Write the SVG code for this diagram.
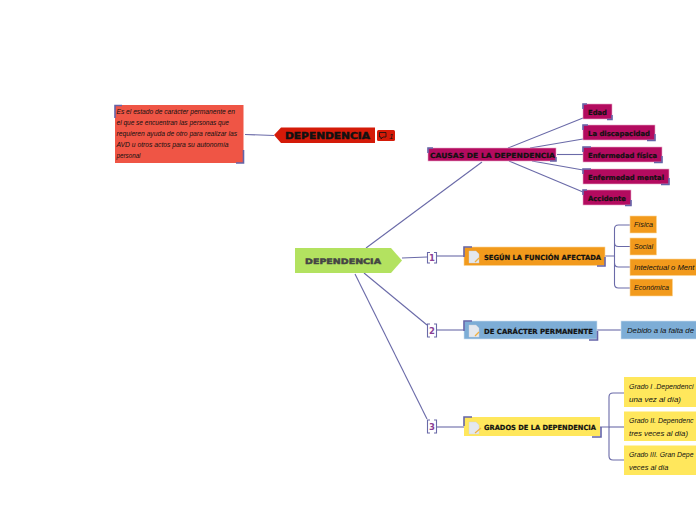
<svg xmlns="http://www.w3.org/2000/svg" width="696" height="520" viewBox="0 0 696 520">
<style>
.c{fill:none;stroke:#6a6aa8;stroke-width:1.1}
.m{fill:none;stroke:#6464a8;stroke-width:1.6}
.h{font-family:"DejaVu Sans",sans-serif;font-weight:700;fill:#111;stroke:#111;stroke-width:.45}
.b{font-family:"DejaVu Sans",sans-serif;font-weight:700;fill:#111;stroke:#111;stroke-width:.2;font-size:7px}
.i{font-family:"Liberation Sans",sans-serif;font-style:italic;fill:#111;font-size:8px}
.n{font-family:"DejaVu Sans",sans-serif;font-weight:700;fill:#8a3f95;font-size:8.500px;text-anchor:middle}
.pk{fill:#b30b5f;stroke:#e8a8c8;stroke-width:.6}
.or{fill:#f29a1c;stroke:#fbd596;stroke-width:.6}
.ye{fill:#ffe75c}
.bl{fill:#7dadd6;stroke:#cfe0f0;stroke-width:.6}
.doc{fill:#e4e8ee;stroke:#c9cfd8;stroke-width:.4}
.pen{fill:none;stroke:#f0b040;stroke-width:1.2}
</style>
<rect width="696" height="520" fill="#fff"/>
<g id="connectors">
<path class="c" d="M245 134.500L274 135.500"/>
<path class="c" d="M366 248L482 162"/>
<path class="c" d="M508 148L583 118"/>
<path class="c" d="M530 148L583 139"/>
<path class="c" d="M557 154.500H583"/>
<path class="c" d="M532 161L583 170"/>
<path class="c" d="M509 161L583 192"/>
<path class="c" d="M402 258L427 257"/>
<path class="c" d="M364 273L427 325"/>
<path class="c" d="M355 274L427 419"/>
<path class="c" d="M437 256H464"/>
<path class="c" d="M437 330H464"/>
<path class="c" d="M437 427H464"/>
<path class="c" d="M605 256H614.500V229Q614.500 225 618.500 225H630"/>
<path class="c" d="M614.500 256V284Q614.500 288 618.500 288H630"/>
<path class="c" d="M614.500 243Q614.500 246.500 618.500 246.500H630"/>
<path class="c" d="M614.500 263Q614.500 267 618.500 267H630"/>
<path class="c" d="M597 330H621"/>
<path class="c" d="M600 427H609V397Q609 393 613 393H624"/>
<path class="c" d="M609 427H624"/>
<path class="c" d="M609 427V456Q609 460 613 460H624"/>
</g>
<g id="note">
<rect x="115" y="105" width="128.500" height="58" fill="#ef5545"/>
<path class="m" d="M115 118V105.500H122M243.500 150V163H236"/>
<text class="i" x="116.500" y="114" textLength="118.500" lengthAdjust="spacingAndGlyphs">Es el estado de carácter permanente en</text>
<text class="i" x="116.500" y="125" textLength="112.500" lengthAdjust="spacingAndGlyphs">el que se encuentran las personas que</text>
<text class="i" x="116.500" y="136" textLength="120.500" lengthAdjust="spacingAndGlyphs">requieren ayuda de otro para realizar las</text>
<text class="i" x="116.500" y="147" textLength="112" lengthAdjust="spacingAndGlyphs">AVD u otros actos para su autonomía</text>
<text class="i" x="116.500" y="158" textLength="24" lengthAdjust="spacingAndGlyphs">personal</text>
</g>
<g id="dep-red">
<polygon points="274,135 281,127.500 375,127.500 375,143 281,143" fill="#d41a08"/>
<text class="h" x="285" y="139" font-size="8.500" textLength="85" lengthAdjust="spacingAndGlyphs">DEPENDENCIA</text>
<rect x="377" y="130" width="18" height="11" rx="1.500" fill="#d41a08"/>
<path d="M379.500 132.500H386V137H383L381 139V137H379.500Z" fill="none" stroke="#111" stroke-width=".8"/>
<text class="i" x="389" y="138.500" font-size="7">1</text>
</g>
<g id="causas">
<rect x="428" y="148" width="128" height="13" class="pk"/>
<path class="m" d="M428 153V148H433M556 157V161H550"/>
<text class="b" x="430" y="157.800" textLength="125" lengthAdjust="spacingAndGlyphs">CAUSAS DE LA DEPENDENCIA</text>
</g>
<g id="edad">
<rect x="583" y="104" width="29" height="15" class="pk"/>
<path class="m" d="M583 109V104H587M612 115V119.500H607"/>
<text class="b" x="588" y="115" textLength="19" lengthAdjust="spacingAndGlyphs">Edad</text>
</g>
<g id="discapacidad">
<rect x="583" y="125" width="72" height="15" class="pk"/>
<path class="m" d="M583 130V125H588M655 134V140.500H647"/>
<text class="b" x="588" y="136" textLength="62" lengthAdjust="spacingAndGlyphs">La discapacidad</text>
</g>
<g id="fisica">
<rect x="583" y="147" width="79" height="15" class="pk"/>
<path class="m" d="M583 152V147H591M662 156V162.500H654"/>
<text class="b" x="588" y="157.500" textLength="69" lengthAdjust="spacingAndGlyphs">Enfermedad física</text>
</g>
<g id="mental">
<rect x="583" y="169" width="86" height="15" class="pk"/>
<path class="m" d="M583 174V169H591M669 178V184.500H661"/>
<text class="b" x="588" y="180" textLength="76" lengthAdjust="spacingAndGlyphs">Enfermedad mental</text>
</g>
<g id="accidente">
<rect x="583" y="190" width="48" height="15" class="pk"/>
<path class="m" d="M583 195V190H587M631 200V205.500H625"/>
<text class="b" x="588" y="200.500" textLength="38" lengthAdjust="spacingAndGlyphs">Accidente</text>
</g>
<g id="central">
<polygon points="295,248 391,248 402,260.500 391,273 295,273" fill="#b3e260"/>
<text class="h" x="305" y="264" font-size="7.500" style="fill:#444;stroke:#444" textLength="76" lengthAdjust="spacingAndGlyphs">DEPENDENCIA</text>
</g>
<g id="n1"><path class="c" d="M430 252.500H427.500V263H430M434 252.500H436.500V263H434"/><text class="n" x="432" y="261">1</text></g>
<g id="n2"><path class="c" d="M430 324H427.500V337H430M434 324H436.500V337H434"/><text class="n" x="432" y="333.500">2</text></g>
<g id="n3"><path class="c" d="M430 420H427.500V433H430M434 420H436.500V433H434"/><text class="n" x="432" y="430">3</text></g>
<g id="funcion">
<rect x="464" y="247" width="141" height="18.500" class="or"/>
<path class="m" d="M464 257V247H472M605 257V266H597"/>
<path class="doc" d="M469 251H476L479 254V263H469Z"/><path class="pen" d="M475 262L479 258"/>
<text class="b" x="484" y="259.500" textLength="117" lengthAdjust="spacingAndGlyphs">SEGÚN LA FUNCIÓN AFECTADA</text>
</g>
<g id="permanente">
<rect x="464" y="321" width="133" height="18" class="bl"/>
<path class="m" d="M464 331V321H472M597.500 331V340H589"/>
<path class="doc" d="M469 325H476L479 328V337H469Z"/><path class="pen" d="M475 336L479 332"/>
<text class="b" x="484" y="333.500" textLength="109" lengthAdjust="spacingAndGlyphs">DE CARÁCTER PERMANENTE</text>
</g>
<g id="grados">
<rect x="464" y="417" width="136" height="19" class="ye"/>
<path class="m" d="M464 426V417H472M601 427V437H592"/>
<path class="doc" d="M469 422H476L479 425V434H469Z"/><path class="pen" d="M475 433L481 428"/>
<text class="b" x="484" y="429.500" textLength="112" lengthAdjust="spacingAndGlyphs">GRADOS DE LA DEPENDENCIA</text>
</g>
<g id="s1"><rect x="630" y="216" width="26.500" height="17" class="or"/><text class="i" x="634" y="227" textLength="19" lengthAdjust="spacingAndGlyphs">Física</text></g>
<g id="s2"><rect x="630" y="238" width="26.500" height="17" class="or"/><text class="i" x="634" y="249" textLength="19" lengthAdjust="spacingAndGlyphs">Social</text></g>
<g id="s3"><rect x="630" y="259" width="67" height="16.500" class="or"/><text class="i" x="634" y="270" textLength="60.500" lengthAdjust="spacingAndGlyphs">Intelectual o Ment</text></g>
<g id="s4"><rect x="630" y="279" width="42.500" height="17" class="or"/><text class="i" x="634" y="290" textLength="35" lengthAdjust="spacingAndGlyphs">Económica</text></g>
<g id="b1"><rect x="621" y="321" width="76" height="18" class="bl"/><text class="i" x="627" y="333" textLength="67" lengthAdjust="spacingAndGlyphs">Debido a la falta de</text></g>
<g id="y1"><rect x="624" y="377" width="73" height="30" class="ye"/><text class="i" x="629" y="389" textLength="64.500" lengthAdjust="spacingAndGlyphs">Grado I .Dependenci</text><text class="i" x="629" y="401.500" textLength="52" lengthAdjust="spacingAndGlyphs">una vez al día)</text></g>
<g id="y2"><rect x="624" y="411.500" width="73" height="29.500" class="ye"/><text class="i" x="629" y="423" textLength="64.500" lengthAdjust="spacingAndGlyphs">Grado II. Dependenc</text><text class="i" x="629" y="436" textLength="59" lengthAdjust="spacingAndGlyphs">tres veces al día)</text></g>
<g id="y3"><rect x="624" y="445.500" width="73" height="29.500" class="ye"/><text class="i" x="629" y="457" textLength="64.500" lengthAdjust="spacingAndGlyphs">Grado III. Gran Depe</text><text class="i" x="629" y="470" textLength="39.500" lengthAdjust="spacingAndGlyphs">veces al día</text></g>
</svg>
